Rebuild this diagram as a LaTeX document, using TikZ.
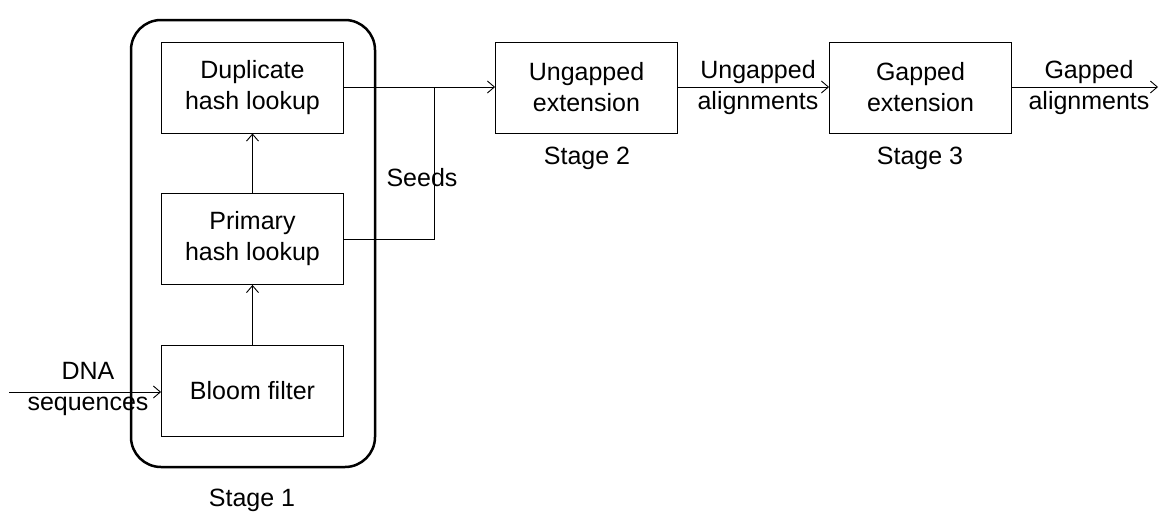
\documentclass[tikz,border=0pt]{standalone}
\usepackage{fontspec}
\setmainfont{Liberation Sans}
\usetikzlibrary{arrows.meta}
\begin{document}
\begin{tikzpicture}[x=1pt,y=-1pt,
  blk/.style={draw, line width=0.9pt, minimum width=182pt, minimum height=91pt, align=center, font=\fontsize{25}{31}\selectfont, inner sep=0pt},
  lbl/.style={font=\fontsize{25}{31}\selectfont, align=center, inner sep=0pt},
  conn/.style={line width=0.9pt, -{Straight Barb[length=7pt,width=12pt,line width=0.9pt]}},
  line/.style={line width=0.9pt}]
\useasboundingbox (0,0) rectangle (1159,514);
% stage 1 enclosure
\draw[line width=2.5pt, rounded corners=30pt] (131,20) rectangle (375,467);
\node[lbl] (s1) at (252,500) {Stage 1};
% stage 1 blocks
\node[blk] (dup) at (252.5,87.5) {Duplicate\\hash lookup};
\node[blk] (pri) at (252.5,239) {Primary\\hash lookup};
\node[blk] (blo) at (252.5,390.5) {Bloom filter};
\draw[conn] (blo.north) -- (pri.south);
\draw[conn] (pri.north) -- (dup.south);
% input
\coordinate (in) at (9,392);
\draw[conn] (in) -- (blo.west |- in);
\node[lbl] (dna) at (88,389) {DNA\\sequences};
% seeds merge
\coordinate (j) at (434,87);
\draw[line] (dup.east |- j) -- (j);
\draw[line] (pri.east) -| (j);
\node[lbl] (seeds) at (422,178) {Seeds};
% stage 2
\node[blk] (ung) at (586.5,87.5) {Ungapped\\extension};
\node[lbl] (s2) at (587,158) {Stage 2};
\draw[conn] (j) -- (ung.west |- j);
% stage 3
\node[blk] (gap) at (920.5,87.5) {Gapped\\extension};
\node[lbl] (s3) at (920,158) {Stage 3};
\draw[conn] (ung.east |- j) -- (gap.west |- j);
\node[lbl] (ua) at (758,88) {Ungapped\\alignments};
% output
\coordinate (out) at (1158,87);
\draw[conn] (gap.east |- j) -- (out);
\node[lbl] (ga) at (1089,88) {Gapped\\alignments};
\end{tikzpicture}
\end{document}
